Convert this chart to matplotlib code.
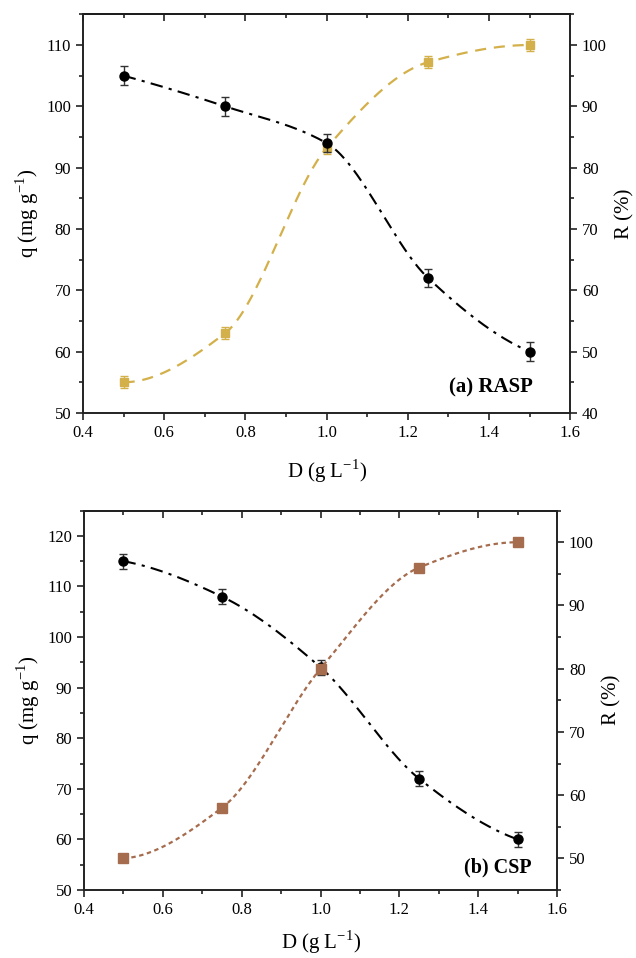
import numpy as np
import matplotlib
matplotlib.use("Agg")
import matplotlib.pyplot as plt
from matplotlib.ticker import MultipleLocator

plt.rcParams['font.family'] = ['Liberation Serif', 'DejaVu Serif']
plt.rcParams['mathtext.fontset'] = 'custom'
plt.rcParams['mathtext.rm'] = 'Liberation Serif'

# dosage (g/L)
dose = [0.5, 0.75, 1.0, 1.25, 1.5]

# (a) RASP
q_rasp = [105, 100, 94, 72, 60]
q_rasp_err = [1.5, 1.5, 1.5, 1.5, 1.5]
r_rasp = [45, 53, 83.2, 97.2, 100]
r_rasp_err = [1.0, 1.0, 1.0, 1.0, 1.0]

# (b) CSP
q_csp = [115, 108, 94, 72, 60]
q_csp_err = [1.5, 1.5, 1.5, 1.5, 1.5]
r_csp = [50, 58, 80, 96, 100]

YELLOW = '#D4B04A'
BROWN = '#A66C4E'


def pchip(x, y, xs):
    """monotone cubic (Fritsch-Carlson) like scipy's PchipInterpolator"""
    x = np.asarray(x, float)
    y = np.asarray(y, float)
    h = np.diff(x)
    delta = np.diff(y) / h
    n = len(x)
    d = np.zeros(n)
    for k in range(1, n - 1):
        if delta[k - 1] * delta[k] > 0:
            w1 = 2 * h[k] + h[k - 1]
            w2 = h[k] + 2 * h[k - 1]
            d[k] = (w1 + w2) / (w1 / delta[k - 1] + w2 / delta[k])

    def edge(h0, h1, m0, m1):
        dd = ((2 * h0 + h1) * m0 - h0 * m1) / (h0 + h1)
        if np.sign(dd) != np.sign(m0):
            dd = 0.0
        elif np.sign(m0) != np.sign(m1) and abs(dd) > abs(3 * m0):
            dd = 3 * m0
        return dd

    d[0] = edge(h[0], h[1], delta[0], delta[1])
    d[-1] = edge(h[-1], h[-2], delta[-1], delta[-2])

    idx = np.clip(np.searchsorted(x, xs) - 1, 0, n - 2)
    t = (xs - x[idx]) / h[idx]
    h00 = 2 * t**3 - 3 * t**2 + 1
    h10 = t**3 - 2 * t**2 + t
    h01 = -2 * t**3 + 3 * t**2
    h11 = t**3 - t**2
    return h00 * y[idx] + h10 * h[idx] * d[idx] + h01 * y[idx + 1] + h11 * h[idx] * d[idx + 1]


def style_axes(ax, ax2, ylim_q, ylim_r, xpad):
    ax.set_xlim(0.4, 1.6)
    ax.set_ylim(*ylim_q)
    ax2.set_ylim(*ylim_r)
    ax.xaxis.set_major_locator(MultipleLocator(0.2))
    ax.xaxis.set_minor_locator(MultipleLocator(0.1))
    ax.yaxis.set_major_locator(MultipleLocator(10))
    ax.yaxis.set_minor_locator(MultipleLocator(5))
    ax2.yaxis.set_major_locator(MultipleLocator(10))
    ax2.yaxis.set_minor_locator(MultipleLocator(5))
    ax.xaxis.set_major_formatter(plt.FormatStrFormatter('%.1f'))

    for a in (ax, ax2):
        for s in a.spines.values():
            s.set_linewidth(1.2)
            s.set_color('#222222')

    ax.tick_params(axis='both', which='major', direction='out', length=5, width=1.2,
                   labelsize=12, color='#222222', right=False, top=False)
    ax.tick_params(axis='both', which='minor', direction='out', length=3, width=1.2,
                   color='#222222', right=False, top=False)
    ax2.tick_params(axis='y', which='major', direction='out', length=5, width=1.2,
                    labelsize=12, color='#222222')
    ax2.tick_params(axis='y', which='minor', direction='out', length=3, width=1.2,
                    color='#222222')

    # top axis: inward ticks, no labels
    top = ax.secondary_xaxis('top')
    top.xaxis.set_major_locator(MultipleLocator(0.2))
    top.xaxis.set_minor_locator(MultipleLocator(0.1))
    top.tick_params(which='major', direction='in', length=5, width=1.2,
                    labeltop=False, color='#222222')
    top.tick_params(which='minor', direction='in', length=3, width=1.2, color='#222222')
    top.spines['top'].set_linewidth(1.2)

    ax.set_xlabel(r'D (g L$^{\mathregular{-1}}$)', fontsize=15, labelpad=xpad)
    ax.set_ylabel(r'q (mg g$^{\mathregular{-1}}$)', fontsize=15, labelpad=4)
    ax2.set_ylabel('R (%)', fontsize=15, labelpad=6)


fig = plt.figure(figsize=(6.36, 9.58), dpi=100)
xs = np.linspace(0.5, 1.5, 300)

# ---- (a) RASP ----
ax = fig.add_axes([0.1305, 0.569, 0.766, 0.416])
ax2 = ax.twinx()
ax.plot(xs, pchip(dose, q_rasp, xs), color='black', lw=1.5, dashes=(6, 3, 1.5, 3), zorder=3)
ax.errorbar(dose, q_rasp, yerr=q_rasp_err, fmt='o', color='black', ms=6.5,
            ecolor='#333333', elinewidth=1.0, capsize=3, capthick=1.0, zorder=4)
ax2.plot(xs, pchip(dose, r_rasp, xs), color=YELLOW, lw=1.6, dashes=(5, 3.5), zorder=3)
ax2.errorbar(dose, r_rasp, yerr=r_rasp_err, fmt='s', color=YELLOW, ms=6,
             ecolor=YELLOW, elinewidth=1.0, capsize=3, capthick=1.0, zorder=4)
style_axes(ax, ax2, (50, 115), (40, 105), 12)
ax.set_zorder(ax2.get_zorder() + 1)
ax.patch.set_visible(False)
ax.text(0.923, 0.05, '(a) RASP', transform=ax.transAxes, ha='right', va='baseline',
        fontsize=15, fontweight='bold')

# ---- (b) CSP ----
bx = fig.add_axes([0.132, 0.071, 0.744, 0.396])
bx2 = bx.twinx()
bx.plot(xs, pchip(dose, q_csp, xs), color='black', lw=1.5, dashes=(6, 3, 1.5, 3), zorder=3)
bx.errorbar(dose, q_csp, yerr=q_csp_err, fmt='o', color='black', ms=6.5,
            ecolor='#333333', elinewidth=1.0, capsize=3, capthick=1.0, zorder=4)
bx2.plot(xs, pchip(dose, r_csp, xs), color=BROWN, lw=1.6, dashes=(2, 1.6), zorder=3)
bx2.plot(dose, r_csp, 's', color=BROWN, ms=6.5, zorder=4)
style_axes(bx, bx2, (50, 125), (45, 105), 8)
bx.text(0.946, 0.045, '(b) CSP', transform=bx.transAxes, ha='right', va='baseline',
        fontsize=14.5, fontweight='bold')

fig.savefig('out.png', dpi=100)
